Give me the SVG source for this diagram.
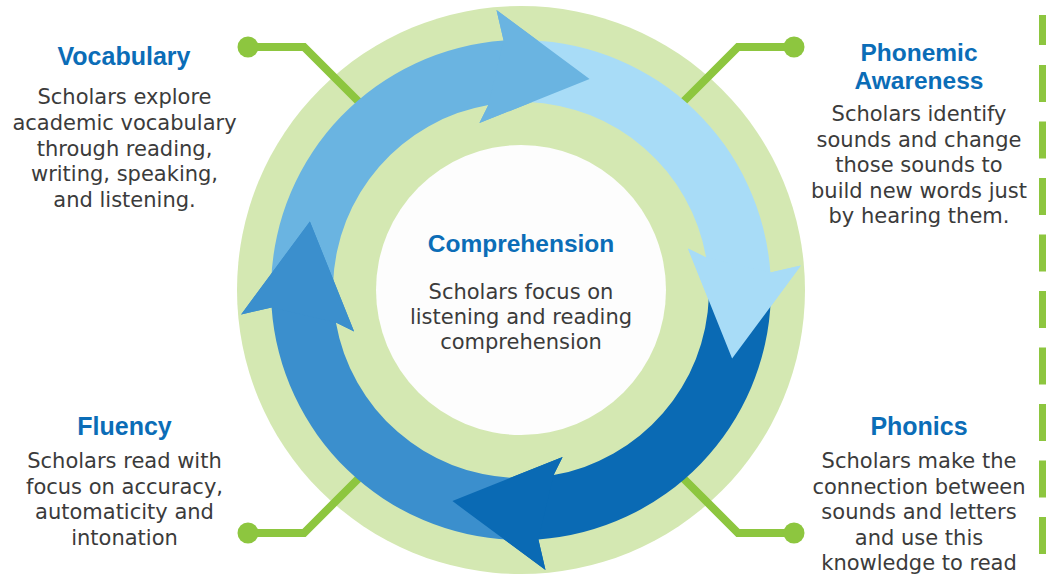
<svg xmlns="http://www.w3.org/2000/svg" xmlns:xlink="http://www.w3.org/1999/xlink" width="1046" height="576" viewBox="0 0 1046 576">
<style>
.h{font-family:"Liberation Sans",Arial,sans-serif;font-weight:bold;font-size:25px;fill:#0b6db7;text-anchor:middle}
.b{font-family:"DejaVu Sans","Liberation Sans",sans-serif;font-size:21px;fill:#3b3b3b;text-anchor:middle}
.conn{fill:none;stroke:#8dc63f;stroke-width:8;stroke-linejoin:miter}
.dot{fill:#8dc63f}
.dash{fill:#8dc63f}
</style>
<defs>
<path id="arrow" d="M 589.6 78.9 L 496.5 10.1 L 503.6 40.6 A 250 250 0 0 0 271.2 281.3 L 333.1 283.4 A 188 188 0 0 1 488.4 104.9 L 479.4 123.1 Z"/>
<path id="head" d="M 589.6 78.9 L 496.5 10.1 L 503.6 40.6 L 488.4 104.9 L 479.4 123.1 Z"/>
</defs>
<rect width="1046" height="576" fill="#ffffff"/>
<g id="ring">
<circle cx="521" cy="290" r="284" fill="#d4e8b2"/>
<circle cx="521" cy="290" r="145" fill="#fdfdfd"/>
</g>
<g id="connectors">
<polyline class="conn" points="248,47 304,47 365,108"/>
<circle class="dot" cx="248" cy="47" r="10.5"/>
<polyline class="conn" points="794,47 738,47 677,108"/>
<circle class="dot" cx="794" cy="47" r="10.5"/>
<polyline class="conn" points="248,533 304,533 365,472"/>
<circle class="dot" cx="248" cy="533" r="10.5"/>
<polyline class="conn" points="794,533 738,533 677,472"/>
<circle class="dot" cx="794" cy="533" r="10.5"/>
</g>
<g id="arrows">
<use xlink:href="#arrow" href="#arrow" fill="#6ab4e1"/>
<use xlink:href="#arrow" href="#arrow" fill="#a8dcf7" transform="rotate(90 521 290)"/>
<use xlink:href="#arrow" href="#arrow" fill="#0a6ab4" transform="rotate(180 521 290)"/>
<use xlink:href="#arrow" href="#arrow" fill="#3b8fcd" transform="rotate(270 521 290)"/>
<use xlink:href="#head" href="#head" fill="#6ab4e1"/>
<use xlink:href="#head" href="#head" fill="#a8dcf7" transform="rotate(90 521 290)"/>
<use xlink:href="#head" href="#head" fill="#0a6ab4" transform="rotate(180 521 290)"/>
<use xlink:href="#head" href="#head" fill="#3b8fcd" transform="rotate(270 521 290)"/>
</g>
<g id="comprehension">
<text class="h" x="521" y="252" style="font-size:24.5px">Comprehension</text>
<text class="b" x="521" y="299">Scholars focus on</text>
<text class="b" x="521" y="324">listening and reading</text>
<text class="b" x="521" y="349">comprehension</text>
</g>
<g id="vocabulary">
<text class="h" x="124" y="65">Vocabulary</text>
<text class="b" x="124.5" y="104">Scholars explore</text>
<text class="b" x="124.5" y="130">academic vocabulary</text>
<text class="b" x="124.5" y="156">through reading,</text>
<text class="b" x="124.5" y="181">writing, speaking,</text>
<text class="b" x="124.5" y="207">and listening.</text>
</g>
<g id="phonemic-awareness">
<text class="h" x="919" y="61.2" style="font-size:24.5px">Phonemic</text>
<text class="h" x="919" y="88.8" style="font-size:24.5px">Awareness</text>
<text class="b" x="919" y="121">Scholars identify</text>
<text class="b" x="919" y="147">sounds and change</text>
<text class="b" x="919" y="172">those sounds to</text>
<text class="b" x="919" y="198">build new words just</text>
<text class="b" x="919" y="223">by hearing them.</text>
</g>
<g id="fluency">
<text class="h" x="124.5" y="435">Fluency</text>
<text class="b" x="124.5" y="468">Scholars read with</text>
<text class="b" x="124.5" y="494">focus on accuracy,</text>
<text class="b" x="124.5" y="519">automaticity and</text>
<text class="b" x="124.5" y="545">intonation</text>
</g>
<g id="phonics">
<text class="h" x="919" y="435">Phonics</text>
<text class="b" x="919" y="468">Scholars make the</text>
<text class="b" x="919" y="493.5">connection between</text>
<text class="b" x="919" y="519">sounds and letters</text>
<text class="b" x="919" y="544.5">and use this</text>
<text class="b" x="919" y="570">knowledge to read</text>
</g>
<g id="divider">
<rect class="dash" x="1039" y="15" width="7" height="30"/>
<rect class="dash" x="1039" y="65" width="7" height="37"/>
<rect class="dash" x="1039" y="121.5" width="7" height="37"/>
<rect class="dash" x="1039" y="178" width="7" height="37"/>
<rect class="dash" x="1039" y="234.5" width="7" height="37"/>
<rect class="dash" x="1039" y="291" width="7" height="37"/>
<rect class="dash" x="1039" y="347.5" width="7" height="37"/>
<rect class="dash" x="1039" y="404" width="7" height="37"/>
<rect class="dash" x="1039" y="460.5" width="7" height="37"/>
<rect class="dash" x="1039" y="517" width="7" height="37"/>
</g>
</svg>
